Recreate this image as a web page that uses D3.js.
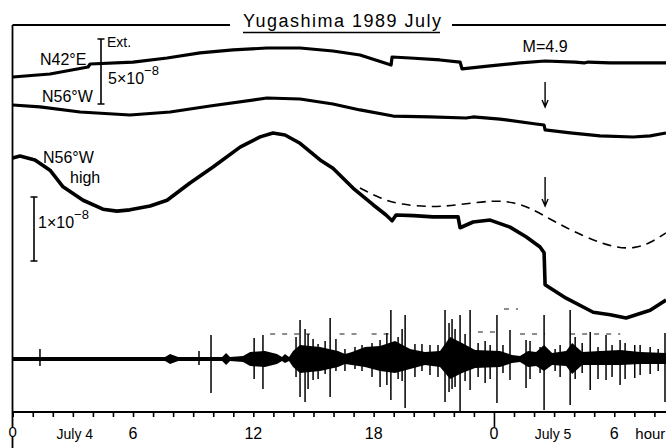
<!DOCTYPE html>
<html>
<head>
<meta charset="utf-8">
<script src="https://cdn.jsdelivr.net/npm/d3@7"></script>
<style>
body{margin:0;background:#fff}
svg{display:block;font-family:'Liberation Sans',Arial,sans-serif}
</style>
</head>
<body>
<svg width="666" height="448"></svg>
<script>
// time axis: hours from July 4, 0h
const hourTicks = d3.range(0, 33);
const tickLabels = [
    {h: 3.1, t: 'July 4', s: 14},
    {h: 6, t: '6', s: 16},
    {h: 12, t: '12', s: 16},
    {h: 18, t: '18', s: 16},
    {h: 24, t: '0', s: 16},
    {h: 26.95, t: 'July 5', s: 14},
    {h: 30, t: '6', s: 16},
    {h: 31.8, t: 'hour', s: 15}
];
const quakeHour = 26.55;

// strain records, [hour, strain in 10^-8 relative to start]
const n42e = [[0,0],[1.86,0.23],[3.76,0.77],[3.86,1.0],[6.0,1.15],[7.7,1.46],[9.34,1.85],[10.99,2.08],
    [12.68,2.23],[14.33,2.23],[15.97,2.0],[17.32,1.69],[18.87,0.92],[18.92,1.54],[19.82,1.46],[21.31,1.31],
    [22.31,1.15],[22.41,0.62],[23.81,0.85],[25.3,1.08],[26.55,1.23],[28.05,1.15],[28.5,1.08],[28.7,1.15],
    [29.79,1.08],[31.28,1.08],[32.58,1.08]];
const n56w = [[0,0],[1.36,-0.15],[3.36,-0.54],[5.85,-0.77],[7.85,-0.54],[9.84,-0.08],[12.68,0.54],[14.33,0.46],
    [15.97,0.08],[17.32,-0.38],[18.97,-0.85],[20.81,-0.92],[22.61,-1.0],[22.96,-0.92],[24.3,-1.08],[26.1,-1.46],
    [26.5,-1.54],[26.55,-1.92],[27.8,-2.15],[29.29,-2.38],[30.94,-2.46],[31.79,-2.38],[32.58,-2.15]];
const n56wHigh = [[0,0],[0.36,0.03],[1.11,-0.03],[1.86,-0.19],[2.51,-0.45],[3.51,-0.66],[4.5,-0.8],[5.2,-0.83],
    [5.85,-0.81],[6.85,-0.75],[7.7,-0.66],[8.84,-0.39],[9.99,-0.14],[11.34,0.17],[12.34,0.33],[12.98,0.39],
    [13.58,0.36],[14.33,0.23],[15.33,-0.03],[15.97,-0.16],[16.97,-0.47],[17.97,-0.73],[18.62,-0.89],[18.92,-0.98],
    [19.12,-0.89],[20.0,-0.9],[20.96,-0.92],[22.21,-0.92],[22.31,-1.09],[22.96,-1.0],[23.81,-0.97],[24.8,-1.08],
    [25.6,-1.23],[26.3,-1.39],[26.5,-1.48],[26.55,-1.98],[27.6,-2.19],[28.95,-2.41],[29.8,-2.45],[30.59,-2.5],
    [31.79,-2.38],[32.58,-2.22]];
const n56wExpected = [[17.32,-0.47],[18.32,-0.63],[19.32,-0.73],[20.96,-0.77],[22.31,-0.73],[23.96,-0.66],
    [24.95,-0.69],[25.8,-0.78],[26.6,-0.92],[28.44,-1.23],[30.09,-1.41],[31.04,-1.41],[31.79,-1.33],[32.58,-1.17]];

// seismograph: envelope [hour, up, down] and spikes [hour, up, down] (chart mm)
const seisEnvelope = [[0,2,2],[7.6,2,2],[7.85,5,5],[8.25,2,2],[10.45,2,2],[10.64,6,6],[10.84,2,2],[11.49,3,3],
    [11.84,7,7],[12.58,8,8],[13.18,5,5],[13.43,2,2],[13.58,5,4],[13.78,2,2],[13.98,8,8],[14.33,14,14],
    [15.33,12,12],[16.22,8,8],[16.57,5,5],[16.92,7,6],[17.57,12,8],[18.32,13,12],[19.07,18,14],[19.82,10,10],
    [20.56,7,6],[21.31,8,8],[21.81,22,20],[22.41,16,14],[23.06,9,9],[24.3,8,8],[24.9,4,4],[25.3,3,3],
    [25.7,8,8],[26.1,7,7],[26.5,14,12],[26.9,6,6],[27.6,8,7],[27.9,16,15],[28.4,7,6],[29.3,8,6],
    [30.3,9,6],[31.29,7,5],[32.58,6,5]];
const seisSpikes = [[1.36,10,7],[9.29,8,6],[9.89,24,34],[12.04,21,20],[12.48,24,30],[14.33,39,38],[14.58,30,43],
    [14.98,20,21],[15.83,41,38],[18.32,19,28],[18.66,26,26],[18.86,49,41],[19.57,44,49],[21.56,49,43],
    [21.91,40,30],[22.31,44,53],[22.81,49,31],[24.15,44,44],[24.8,29,21],[25.6,19,29],[26.5,44,51],
    [27.8,49,46],[28.8,27,31],[29.59,24,21],[30.29,19,26],[31.02,14,19],[32.53,26,43],
    [14.13,22,18],[14.73,25,30],[15.23,15,20],[15.58,18,15],[16.12,20,12],[16.57,10,12],[17.07,12,10],
    [17.42,14,12],[17.92,16,18],[19.22,22,20],[19.42,30,22],[20.06,15,18],[20.41,15,12],[20.81,14,16],
    [21.21,14,18],[21.76,36,33],[22.06,30,28],[22.56,25,22],[23.21,16,18],[23.56,18,24],[23.81,14,20],
    [24.45,14,14],[25.8,18,20],[26.3,12,14],[27.05,10,12],[27.3,14,18],[28.05,22,20],[28.4,16,14],
    [29.19,12,20],[29.89,14,18],[30.54,16,20],[31.29,14,16],[31.79,12,15],[32.19,10,12]];
const seisDashes = [[12.84,14.83,25],[16.3,17.3,25],[17.9,19.0,25],[23.2,24.4,27],[24.5,25.2,50],
    [25.3,26.55,25],[27.8,30.3,25]];

const svg = d3.select('svg');
const x = d3.scaleLinear().domain([0, 32.58]).range([12.7, 666]);
const yN42 = d3.scaleLinear().domain([0, 5]).range([77, 12]);
const yN56 = d3.scaleLinear().domain([0, 5]).range([105, 40]);
const yHigh = d3.scaleLinear().domain([0, 1]).range([158, 94]);
const yS = d3.scaleLinear().domain([-50, 50]).range([409, 309]);

// frame
svg.append('path').attr('d', 'M12.5,25V427M12.5,437V448M12.5,412H666M12.5,25H230M452,25H666')
    .attr('stroke', '#000').attr('stroke-width', 1.8).attr('fill', 'none');
svg.append('text').attr('x', 342).attr('y', 27).attr('text-anchor', 'middle')
    .attr('font-size', 18).attr('textLength', 198).attr('lengthAdjust', 'spacing')
    .text('Yugashima 1989 July');
svg.append('line').attr('x1', 243).attr('x2', 440).attr('y1', 32.5).attr('y2', 32.5)
    .attr('stroke', '#000').attr('stroke-width', 1.5);

// axis
const gA = svg.append('g').attr('transform', 'translate(0,412)')
    .call(d3.axisBottom(x).tickValues(hourTicks).tickSize(5).tickFormat(''));
gA.select('.domain').remove();
gA.selectAll('line').attr('stroke-width', 1.6);
gA.selectAll('.tick').filter(d => d === 24).select('line').attr('y2', 15);

svg.append('text').attr('x', x(0)).attr('y', 437).attr('text-anchor', 'middle')
    .attr('font-size', 15).text('0');
svg.selectAll('.tlab').data(tickLabels).enter().append('text')
    .attr('x', d => x(d.h)).attr('y', 439).attr('text-anchor', 'middle')
    .attr('font-size', d => d.s).text(d => d.t);

// traces
const mk = ys => d3.line().x(d => x(d[0])).y(d => ys(d[1]));
svg.append('path').attr('d', mk(yN42)(n42e)).attr('fill', 'none').attr('stroke', '#000')
    .attr('stroke-width', 3.2).attr('stroke-linejoin', 'round');
svg.append('path').attr('d', mk(yN56)(n56w)).attr('fill', 'none').attr('stroke', '#000')
    .attr('stroke-width', 3.2).attr('stroke-linejoin', 'round');
svg.append('path').attr('d', mk(yHigh)(n56wHigh)).attr('fill', 'none').attr('stroke', '#000')
    .attr('stroke-width', 3.6).attr('stroke-linejoin', 'round');
svg.append('path').attr('d', mk(yHigh).curve(d3.curveBasis)(n56wExpected)).attr('fill', 'none')
    .attr('stroke', '#000').attr('stroke-width', 1.6).attr('stroke-dasharray', '9,6');

// seismograph
svg.append('path')
    .attr('d', d3.area().x(d => x(d[0])).y0(d => yS(-d[2])).y1(d => yS(d[1]))(seisEnvelope))
    .attr('fill', '#000');
svg.append('line').attr('x1', x(0)).attr('x2', x(32.58)).attr('y1', yS(0)).attr('y2', yS(0))
    .attr('stroke', '#000').attr('stroke-width', 3);
svg.selectAll('.spk').data(seisSpikes).enter().append('line')
    .attr('x1', d => x(d[0])).attr('x2', d => x(d[0]))
    .attr('y1', d => yS(d[1])).attr('y2', d => yS(-d[2]))
    .attr('stroke', '#000').attr('stroke-width', 1.5);
svg.selectAll('.dsh').data(seisDashes).enter().append('line')
    .attr('x1', d => x(d[0])).attr('x2', d => x(d[1]))
    .attr('y1', d => yS(d[2])).attr('y2', d => yS(d[2]))
    .attr('stroke', '#000').attr('stroke-width', 0.9).attr('stroke-dasharray', '5,7');

// scale bars
const bar = (bx, yBot, len) => {
    svg.append('path').attr('d', `M${bx},${yBot}V${yBot - len}M${bx - 3.5},${yBot}H${bx + 3.5}M${bx - 3.5},${yBot - len}H${bx + 3.5}`)
        .attr('stroke', '#000').attr('stroke-width', 1.6).attr('fill', 'none');
};
bar(101, 104, yN42(0) - yN42(5));
bar(34, 261, yHigh(0) - yHigh(1));

const txt = (tx, ty, s, str) => svg.append('text').attr('x', tx).attr('y', ty).attr('font-size', s).text(str);
txt(40, 65, 16, 'N42°E');
txt(107, 47, 14, 'Ext.');
txt(42, 102, 16, 'N56°W');
txt(43, 163, 16, 'N56°W');
txt(70, 183, 16, 'high');
const sup = (tx, ty, base) => {
    const t = svg.append('text').attr('x', tx).attr('y', ty).attr('font-size', 16);
    t.append('tspan').text(base);
    t.append('tspan').attr('dy', -9).attr('font-size', 13).text('−8');
};
sup(108, 84, '5×10');
sup(38, 228, '1×10');

// earthquake
svg.append('text').attr('x', x(quakeHour)).attr('y', 52).attr('text-anchor', 'middle')
    .attr('font-size', 16).text('M=4.9');
const arrow = (y1, y2) => {
    const ax = x(quakeHour);
    svg.append('path').attr('d', `M${ax},${y1}V${y2}M${ax - 3},${y2 - 7}L${ax},${y2}L${ax + 3},${y2 - 7}`)
        .attr('stroke', '#000').attr('stroke-width', 1.4).attr('fill', 'none');
};
arrow(82, 107);
arrow(177, 206);
</script>
</body>
</html>
